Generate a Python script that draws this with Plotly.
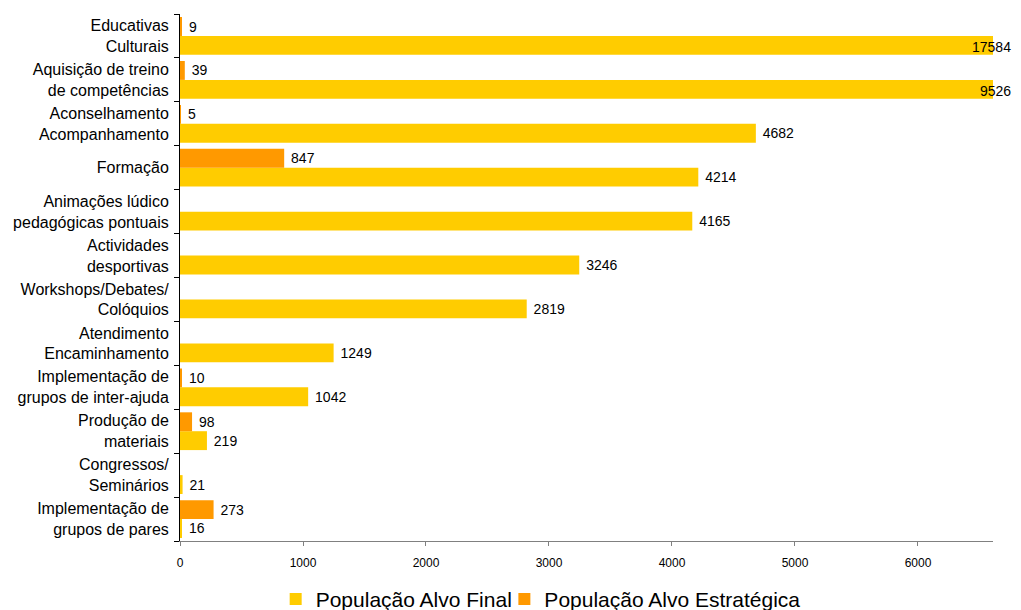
import plotly.graph_objects as go

# Activity types (top to bottom as displayed)
categories = [
    "Educativas<br>Culturais",
    "Aquisição de treino<br>de competências",
    "Aconselhamento<br>Acompanhamento",
    "Formação",
    "Animações lúdico<br>pedagógicas pontuais",
    "Actividades<br>desportivas",
    "Workshops/Debates/<br>Colóquios",
    "Atendimento<br>Encaminhamento",
    "Implementação de<br>grupos de inter-ajuda",
    "Produção de<br>materiais",
    "Congressos/<br>Seminários",
    "Implementação de<br>grupos de pares",
]
alvo_final = [17584, 9526, 4682, 4214, 4165, 3246, 2819, 1249, 1042, 219, 21, 16]
alvo_estrategica = [9, 39, 5, 847, None, None, None, None, 10, 98, None, 273]

x_ticks = [0, 1000, 2000, 3000, 4000, 5000, 6000]
X_MAX = 6610

YELLOW = "#FFCC00"
ORANGE = "#FF9900"
FONT = "Liberation Sans, Arial, sans-serif"


def bar_labels(values):
    # value labels next to each bar; bars running past the axis end get an annotation
    return [("" if v is None or v > X_MAX else " " + str(v)) for v in values]


fig = go.Figure()
fig.add_trace(go.Bar(
    y=categories, x=alvo_final, orientation="h", name="População Alvo Final",
    marker=dict(color=YELLOW, line=dict(width=0)),
    text=bar_labels(alvo_final), textposition="outside", cliponaxis=False,
    textfont=dict(family=FONT, size=14, color="#000000"),
    legend="legend",
))
fig.add_trace(go.Bar(
    y=categories, x=alvo_estrategica, orientation="h", name="População Alvo Estratégica",
    marker=dict(color=ORANGE, line=dict(width=0)),
    text=bar_labels(alvo_estrategica), textposition="outside", cliponaxis=False,
    textfont=dict(family=FONT, size=14, color="#000000"),
    legend="legend2",
))

annotations = []
for cat, v in zip(categories, alvo_final):
    if v is not None and v > X_MAX:
        annotations.append(dict(
            x=X_MAX, y=cat, yshift=-11, xref="x", yref="y", text=str(v),
            showarrow=False, xanchor="right", xshift=20,
            font=dict(family=FONT, size=14, color="#000000"),
        ))

legend_style = dict(
    orientation="h", xref="container", yref="paper",
    xanchor="left", y=-0.072, yanchor="top",
    font=dict(family=FONT, size=21, color="#000000"),
    itemwidth=30, bgcolor="rgba(0,0,0,0)",
)

fig.update_layout(
    width=1021, height=610,
    margin=dict(l=180, r=28, t=14, b=69, autoexpand=False),
    paper_bgcolor="white", plot_bgcolor="white",
    barmode="group", bargap=0.14, bargroupgap=0,
    font=dict(family=FONT, color="#000000"),
    showlegend=True,
    legend=dict(legend_style, x=0.270),
    legend2=dict(legend_style, x=0.494),
    xaxis=dict(
        range=[0, X_MAX], tickvals=x_ticks, ticktext=[str(t) for t in x_ticks],
        showgrid=False, zeroline=False,
        showline=True, linecolor="#808080", linewidth=1,
        ticks="outside", ticklen=4, tickcolor="#808080",
        ticklabelstandoff=7,
        tickfont=dict(family=FONT, size=12, color="#000000"),
    ),
    yaxis=dict(
        categoryorder="array", categoryarray=categories[::-1],
        showgrid=False, zeroline=False,
        showline=True, linecolor="#000000", linewidth=1,
        ticks="outside", ticklen=5, tickcolor="#000000", tickson="boundaries",
        ticklabelstandoff=7,
        tickfont=dict(family=FONT, size=16, color="#000000"),
    ),
    annotations=annotations,
)

fig.write_html("out.html")
